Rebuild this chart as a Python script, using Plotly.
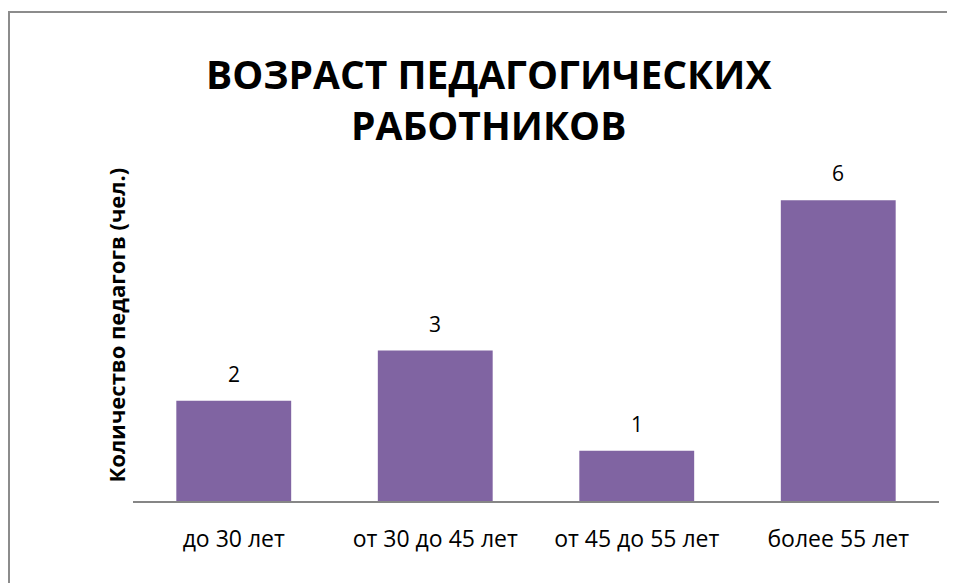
import plotly.graph_objects as go

categories = ["до 30 лет", "от 30 до 45 лет", "от 45 до 55 лет", "более 55 лет"]
values = [2, 3, 1, 6]
title_text = "ВОЗРАСТ ПЕДАГОГИЧЕСКИХ<br>РАБОТНИКОВ"
y_title = "Количество педагогв (чел.)"

OFF = 8  # default page body margin
W, H = 955 - 2 * OFF, 583 - OFF
# plot area in screen pixels
X0, X1, Y0, Y1 = 133, 939, 150, 501
L, R = X0 - OFF, (W + OFF) - X1
T, B = Y0 - OFF, (H + OFF) - Y1
pw, ph = X1 - X0, Y1 - Y0

def px_x(x):
    return (x - X0) / pw

def px_y(y):
    return (Y1 - y) / ph

FONT = "Open Sans, sans-serif"

fig = go.Figure()
fig.add_trace(go.Bar(
    x=categories, y=values,
    marker=dict(color="#8064A2", line=dict(width=0)),
    width=0.57,
    hoverinfo="x+y",
))

for c, v in zip(categories, values):
    fig.add_annotation(x=c, y=v, xref="x", yref="y", text=str(v),
                       showarrow=False, yanchor="bottom", yshift=11,
                       font=dict(family=FONT, size=21, color="#000000"))

fig.add_annotation(x=px_x(115), y=0.5, xref="paper", yref="paper",
                   text="<b>" + y_title + "</b>", textangle=-90,
                   showarrow=False, xanchor="center", yanchor="middle",
                   font=dict(family=FONT, size=22, color="#000000"))

fig.add_annotation(x=px_x(489), y=px_y(12), xref="paper", yref="paper",
                   text="<b>" + title_text + "</b>", showarrow=False,
                   xanchor="center", yanchor="top", yshift=-33,
                   font=dict(family=FONT, size=39, color="#000000"))

fig.add_shape(type="rect", xref="paper", yref="paper",
              x0=px_x(9), x1=px_x(975), y0=px_y(600), y1=px_y(12),
              line=dict(color="#8c8c8c", width=2), fillcolor="rgba(0,0,0,0)",
              layer="below")

fig.update_layout(
    width=W, height=H,
    margin=dict(l=L, r=R, t=T, b=B),
    paper_bgcolor="white", plot_bgcolor="white",
    showlegend=False,
    font=dict(family=FONT, color="#000000"),
    xaxis=dict(showline=True, linecolor="#868686", linewidth=2,
               ticks="", ticklabelstandoff=16,
               tickfont=dict(family=FONT, size=23, color="#000000"),
               showgrid=False, zeroline=False),
    yaxis=dict(range=[0, 7], showticklabels=False, showgrid=False,
               zeroline=False, showline=False, ticks=""),
    bargap=0.43,
)

fig.write_html("out.html")
